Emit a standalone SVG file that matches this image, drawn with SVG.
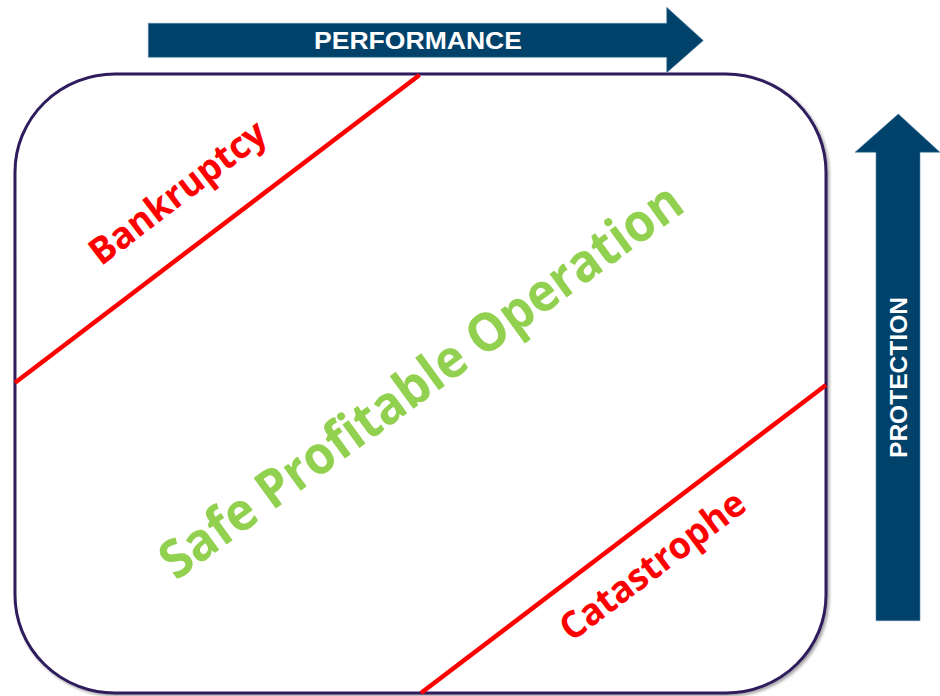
<svg xmlns="http://www.w3.org/2000/svg" width="940" height="696" viewBox="0 0 940 696">
<defs>
<filter id="sh" x="-5%" y="-5%" width="110%" height="110%">
<feGaussianBlur in="SourceAlpha" stdDeviation="1.5"/>
<feOffset dx="1.5" dy="1.5" result="b"/>
<feFlood flood-color="#000" flood-opacity="0.35"/>
<feComposite in2="b" operator="in"/>
<feMerge><feMergeNode/><feMergeNode in="SourceGraphic"/></feMerge>
</filter>
</defs>
<style>
.arrow{fill:#01426b;stroke:#5b86a6;stroke-width:0.6}
.alabel{font-family:"Liberation Sans",Arial,sans-serif;font-weight:bold;font-size:24px;fill:#ffffff}
.zone{fill:none;stroke:#ff0000;stroke-width:4.5;stroke-linecap:butt}
.rlabel{font-family:"Open Sans","Noto Sans",sans-serif;font-weight:bold;font-size:37px;fill:#ff0000}
.glabel{font-family:"Open Sans","Noto Sans",sans-serif;font-weight:bold;font-size:53px;fill:#92d050}
</style>
<rect width="940" height="696" fill="#ffffff"/>
<g id="frame">
<rect x="15" y="74" width="811" height="619" rx="100" ry="98" fill="#ffffff" stroke="#2f1d5c" stroke-width="3" filter="url(#sh)"/>
</g>
<g id="connectors">
<line class="zone" x1="15" y1="382.7" x2="419.5" y2="75"/>
<line class="zone" x1="826" y1="385" x2="421" y2="693"/>
</g>
<g id="performance">
<polygon class="arrow" points="148.3,23.3 666.7,23.3 666.7,7.3 703.3,40.5 666.7,72.7 666.7,57.3 148.3,57.3"/>
<text class="alabel" x="418" y="49" text-anchor="middle" textLength="208" lengthAdjust="spacingAndGlyphs">PERFORMANCE</text>
</g>
<g id="protection">
<polygon class="arrow" points="876,620.7 876,152.3 855,152.3 898.3,114 940,152.3 920,152.3 920,620.7"/>
<text class="alabel" transform="translate(907,377.5) rotate(-90)" x="0" y="0" text-anchor="middle" textLength="161" lengthAdjust="spacingAndGlyphs">PROTECTION</text>
</g>
<g id="bankruptcy">
<text class="rlabel" transform="translate(178,193) rotate(-37.3)" x="0" y="12" text-anchor="middle" textLength="212" lengthAdjust="spacingAndGlyphs">Bankruptcy</text>
</g>
<g id="safe">
<text class="glabel" transform="translate(421,381) rotate(-36)" x="0" y="18" text-anchor="middle" textLength="632" lengthAdjust="spacingAndGlyphs">Safe Profitable Operation</text>
</g>
<g id="catastrophe">
<text class="rlabel" transform="translate(653,566) rotate(-37)" x="0" y="12" text-anchor="middle" textLength="222" lengthAdjust="spacingAndGlyphs">Catastrophe</text>
</g>
</svg>
